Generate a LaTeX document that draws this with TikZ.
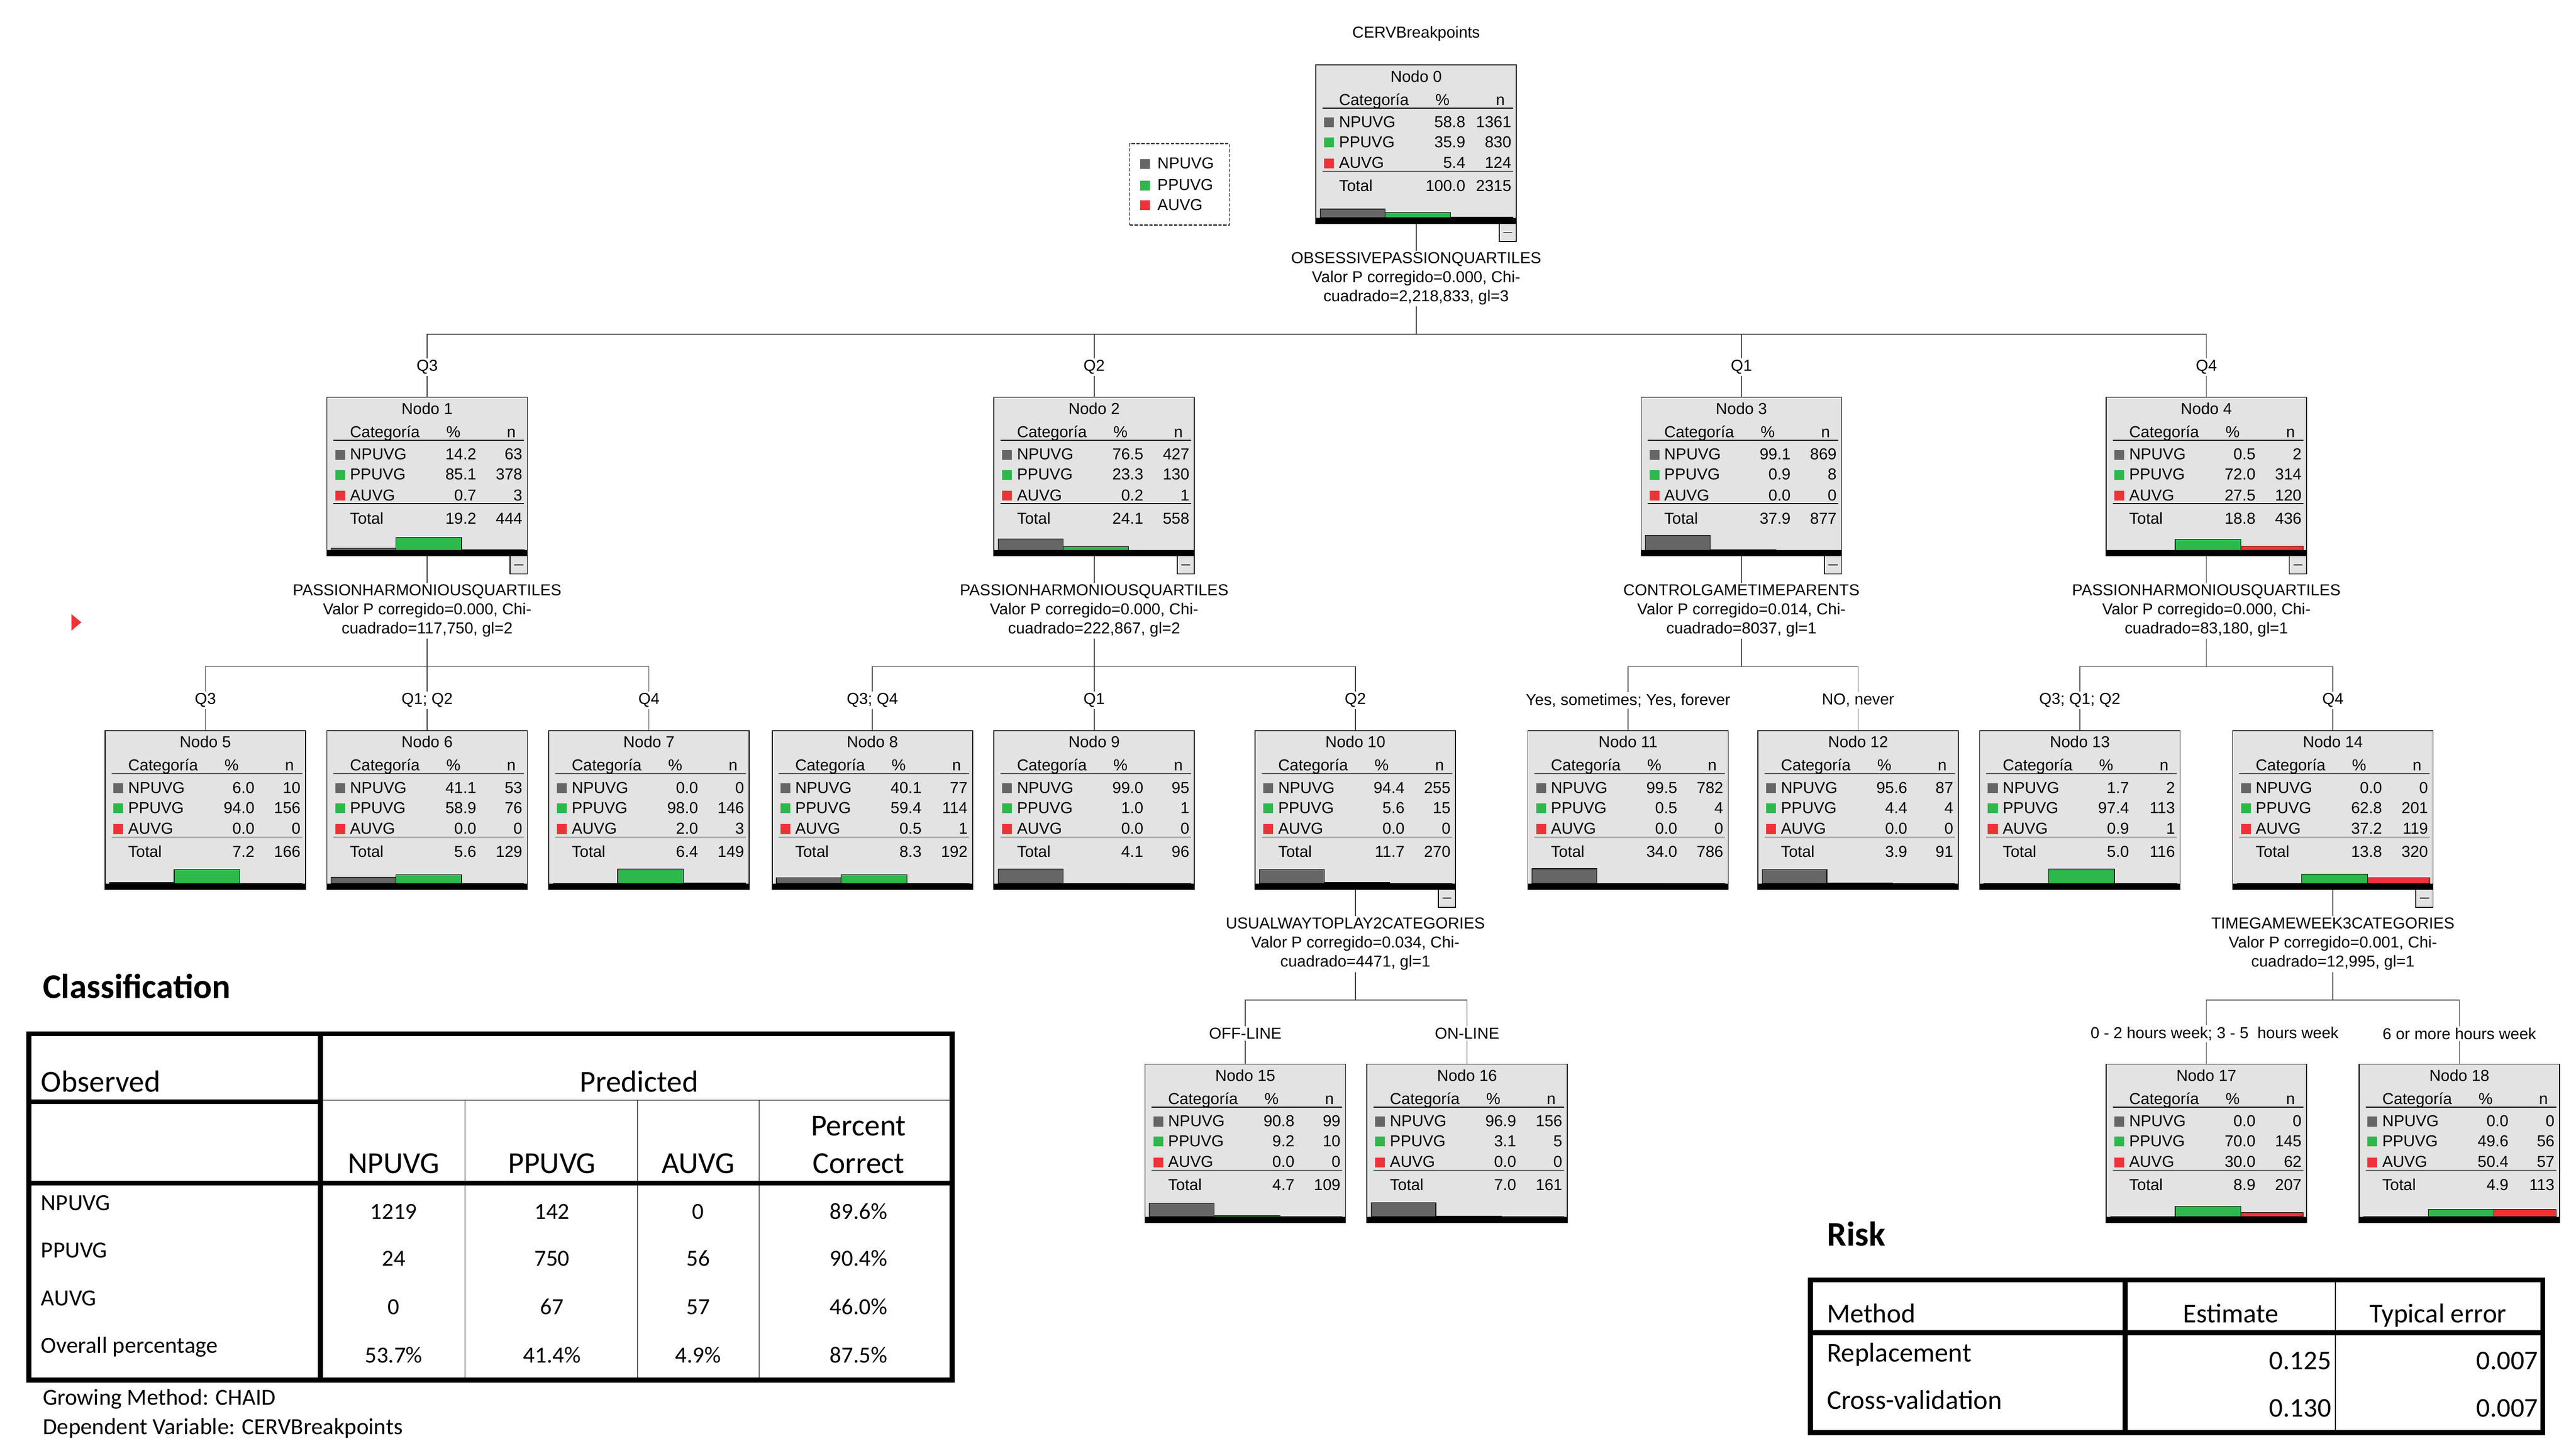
\documentclass[tikz,border=0pt]{standalone}
\usepackage{fontspec}
\setmainfont{Liberation Sans}
\newfontfamily\calib{Carlito}
\usetikzlibrary{calc}
\definecolor{boxgray}{HTML}{E3E3E3}
\definecolor{npgray}{HTML}{666666}
\definecolor{ppgreen}{HTML}{2DB84B}
\definecolor{aured}{HTML}{EE3338}
\definecolor{conncol}{HTML}{404040}
\tikzset{
 tf/.style={font=\fontsize{27.5}{33}\selectfont, inner sep=0pt},
 treebox/.style={draw, fill=boxgray, line width=0.5mm, minimum width=122mm, minimum height=96.5mm, inner sep=0pt, outer sep=0pt, anchor=north west},
 conn/.style={draw=conncol, line width=0.5mm},
 split/.style={tf, fill=white, align=center, inner sep=1mm, anchor=north},
 lab/.style={tf, fill=white, inner sep=1mm},
 bar/.style={draw=black, line width=0.35mm},
 thickrule/.style={line width=3mm},
 thinrule/.style={line width=0.4mm},
 ch/.style={font=\calib\fontsize{53}{60}\selectfont, inner sep=0pt, anchor=base},
 cb/.style={font=\calib\fontsize{40}{46}\selectfont, inner sep=0pt, anchor=base},
 rb/.style={font=\calib\fontsize{47}{52}\selectfont, inner sep=0pt, anchor=base},
 ttl/.style={font=\calib\bfseries\fontsize{60}{66}\selectfont, inner sep=0pt, anchor=base west},
}
\newcommand\tnode[8]{%
\node[treebox] (#1) at (#2,#3) {};
\begin{scope}[shift={(#2,#3)}]
\node[tf,anchor=base] at (61,10.3) {Nodo #4};
\node[tf,anchor=base west] at (14,24.4) {Categoría};
\node[tf,anchor=base] at (77,24.4) {\%};
\node[tf,anchor=base east] at (115,24.4) {n};
\draw[line width=0.5mm] (4,26.2) -- (120,26.2);
\fill (0,93) rectangle (122,96.5);
\foreach \pa/\na/\pb/\nb/\pc/\nc in {#5}{
 \fill[npgray] (5,32) rectangle (11,38);
 \fill[ppgreen] (5,44.2) rectangle (11,50.2);
 \fill[aured] (5,56.9) rectangle (11,62.9);
 \node[tf,anchor=base west] at (14,38) {NPUVG};
 \node[tf,anchor=base west] at (14,50.2) {PPUVG};
 \node[tf,anchor=base west] at (14,62.9) {AUVG};
 \node[tf,anchor=base east] at (91,38) {\pa};
 \node[tf,anchor=base east] at (119,38) {\na};
 \node[tf,anchor=base east] at (91,50.2) {\pb};
 \node[tf,anchor=base east] at (119,50.2) {\nb};
 \node[tf,anchor=base east] at (91,62.9) {\pc};
 \node[tf,anchor=base east] at (119,62.9) {\nc};
 \draw[bar,fill=npgray] (2.6,93) rectangle (42,{93-0.09*\pa});
 \draw[bar,fill=ppgreen] (42,93) rectangle (82,{93-0.09*\pb});
 \draw[bar,fill=aured] (82,93) rectangle (120,{93-0.09*\pc});
}
\draw[line width=0.5mm] (4,64.7) -- (120,64.7);
\node[tf,anchor=base west] at (14,77) {Total};
\node[tf,anchor=base east] at (91,77) {#6};
\node[tf,anchor=base east] at (119,77) {#7};
\ifnum#8=1
 \draw[line width=0.5mm,fill=boxgray] (111.5,96.5) rectangle (122,107.5);
 \draw[line width=0.6mm] (114,102) -- (119.5,102);
\fi
\end{scope}}
\begin{document}
\begin{tikzpicture}[x=1mm,y=-1mm]
\fill[white] (0,0) rectangle (1568,880.5);
\useasboundingbox (0,0) rectangle (1568,880.5);

\node[tf,anchor=base] (title) at (862,23) {CERVBreakpoints};

% legend
\node[draw, dashed, dash pattern=on 2mm off 1mm, line width=0.5mm, minimum width=60.8mm, minimum height=49.5mm, inner sep=0pt] (legend) at (718,112.2) {};
\fill[npgray] (694,96.8) rectangle (700,102.8);
\fill[ppgreen] (694,110) rectangle (700,116);
\fill[aured] (694,122) rectangle (700,128);
\node[tf,anchor=base west] at (704.5,102.8) {NPUVG};
\node[tf,anchor=base west] at (704.5,116) {PPUVG};
\node[tf,anchor=base west] at (704.5,128) {AUVG};

% red marker
\fill[aured] (43.5,374) -- (49.5,379) -- (43.5,384) -- cycle;

% nodes
\tnode{n0}{801}{39.6}{0}{58.8/1361/35.9/830/5.4/124}{100.0}{2315}{1}
\tnode{n1}{199}{242}{1}{14.2/63/85.1/378/0.7/3}{19.2}{444}{1}
\tnode{n2}{605}{242}{2}{76.5/427/23.3/130/0.2/1}{24.1}{558}{1}
\tnode{n3}{999}{242}{3}{99.1/869/0.9/8/0.0/0}{37.9}{877}{1}
\tnode{n4}{1282}{242}{4}{0.5/2/72.0/314/27.5/120}{18.8}{436}{1}
\tnode{n5}{64}{445}{5}{6.0/10/94.0/156/0.0/0}{7.2}{166}{0}
\tnode{n6}{199}{445}{6}{41.1/53/58.9/76/0.0/0}{5.6}{129}{0}
\tnode{n7}{334}{445}{7}{0.0/0/98.0/146/2.0/3}{6.4}{149}{0}
\tnode{n8}{470}{445}{8}{40.1/77/59.4/114/0.5/1}{8.3}{192}{0}
\tnode{n9}{605}{445}{9}{99.0/95/1.0/1/0.0/0}{4.1}{96}{0}
\tnode{n10}{764}{445}{10}{94.4/255/5.6/15/0.0/0}{11.7}{270}{1}
\tnode{n11}{930}{445}{11}{99.5/782/0.5/4/0.0/0}{34.0}{786}{0}
\tnode{n12}{1070}{445}{12}{95.6/87/4.4/4/0.0/0}{3.9}{91}{0}
\tnode{n13}{1205}{445}{13}{1.7/2/97.4/113/0.9/1}{5.0}{116}{0}
\tnode{n14}{1359}{445}{14}{0.0/0/62.8/201/37.2/119}{13.8}{320}{1}
\tnode{n15}{697}{648}{15}{90.8/99/9.2/10/0.0/0}{4.7}{109}{0}
\tnode{n16}{832}{648}{16}{96.9/156/3.1/5/0.0/0}{7.0}{161}{0}
\tnode{n17}{1282}{648}{17}{0.0/0/70.0/145/30.0/62}{8.9}{207}{0}
\tnode{n18}{1436}{648}{18}{0.0/0/49.6/56/50.4/57}{4.9}{113}{0}

% connectors
\foreach \p/\kids in {n0/{n1,n2,n3,n4}, n1/{n5,n6,n7}, n2/{n8,n9,n10}, n3/{n11,n12}, n4/{n13,n14}, n10/{n15,n16}, n14/{n17,n18}}{
 \coordinate (s\p) at ($(\p.south)+(0,67.5)$);
 \draw[conn] (\p.south) -- (s\p);
 \foreach \c in \kids { \draw[conn] (\c.north) |- (s\p); }
}

% split texts
\path (n0.south) ++(0,16.4) node[split] {OBSESSIVEPASSIONQUARTILES\\Valor P corregido=0.000, Chi-\\cuadrado=2,218,833, gl=3};
\path (n1.south) ++(0,16.4) node[split] {PASSIONHARMONIOUSQUARTILES\\Valor P corregido=0.000, Chi-\\cuadrado=117,750, gl=2};
\path (n2.south) ++(0,16.4) node[split] {PASSIONHARMONIOUSQUARTILES\\Valor P corregido=0.000, Chi-\\cuadrado=222,867, gl=2};
\path (n3.south) ++(0,16.4) node[split] {CONTROLGAMETIMEPARENTS\\Valor P corregido=0.014, Chi-\\cuadrado=8037, gl=1};
\path (n4.south) ++(0,16.4) node[split] {PASSIONHARMONIOUSQUARTILES\\Valor P corregido=0.000, Chi-\\cuadrado=83,180, gl=1};
\path (n10.south) ++(0,16.4) node[split] {USUALWAYTOPLAY2CATEGORIES\\Valor P corregido=0.034, Chi-\\cuadrado=4471, gl=1};
\path (n14.south) ++(0,16.4) node[split] {TIMEGAMEWEEK3CATEGORIES\\Valor P corregido=0.001, Chi-\\cuadrado=12,995, gl=1};

% branch labels
\foreach \c/\t in {n1/Q3, n2/Q2, n3/Q1, n4/Q4, n5/Q3, n6/{Q1; Q2}, n7/Q4, n8/{Q3; Q4}, n9/Q1, n10/Q2, n11/{Yes, sometimes; Yes, forever}, n12/{NO, never}, n13/{Q3; Q1; Q2}, n14/Q4, n15/OFF-LINE, n16/ON-LINE, n18/6 or more hours week}{
 \path (\c.north) ++(0,-18.5) node[lab] {\t};
}
\path (n17.north) ++(5,-18.5) node[lab] {0 - 2 hours week; 3 - 5\ \ hours week};

% Classification table
\node[ttl] (ctitle) at (26,608) {Classification};
\draw[thickrule] (17.5,629.5) rectangle (579.5,840.5);
\draw[thickrule] (195,629.5) -- (195,840.5);
\draw[thickrule] (17.5,671) -- (195,671);
\draw[thinrule] (195,670) -- (579.5,670);
\draw[thickrule] (17.5,720.5) -- (579.5,720.5);
\foreach \x in {283,388,462} \draw[thinrule] (\x,670) -- (\x,840.5);
\node[ch,anchor=base west] at (25,665) {Observed};
\node[ch] at (389,665) {Predicted};
\node[ch] at (239.6,714.5) {NPUVG};
\node[ch] at (336,714.5) {PPUVG};
\node[ch] at (425,714.5) {AUVG};
\node[ch] at (522.6,691.6) {Percent};
\node[ch] at (522.6,714.5) {Correct};
\node[cb,anchor=base west] at (25,737) {NPUVG};
\node[cb,anchor=base west] at (25,766) {PPUVG};
\node[cb,anchor=base west] at (25,795) {AUVG};
\node[cb,anchor=base west] at (25,824) {Overall percentage};
\foreach \y/\a/\b/\c/\d in {742.5/1219/142/0/89.6\%, 771/24/750/56/90.4\%, 800.6/0/67/57/46.0\%, 830/53.7\%/41.4\%/4.9\%/87.5\%}{
 \node[cb] at (239.6,\y) {\a};
 \node[cb] at (336,\y) {\b};
 \node[cb] at (425,\y) {\c};
 \node[cb] at (522.6,\y) {\d};
}
\node[cb,anchor=base west] at (26,855.5) {Growing Method: CHAID};
\node[cb,anchor=base west] at (26,873.6) {Dependent Variable: CERVBreakpoints};

% Risk table
\node[ttl] (rtitle) at (1112,758.6) {Risk};
\draw[thickrule] (1102,779.4) rectangle (1547.7,872.4);
\draw[thickrule] (1293.5,779.4) -- (1293.5,872.4);
\draw[thinrule] (1421.5,779.4) -- (1421.5,872.4);
\draw[thickrule] (1102,811.5) -- (1547.7,811.5);
\node[rb,anchor=base west] at (1112,805.4) {Method};
\node[rb] at (1358,805.4) {Estimate};
\node[rb] at (1484,805.4) {Typical error};
\node[rb,anchor=base west] at (1112,829.3) {Replacement};
\node[rb,anchor=base west] at (1112,858) {Cross-validation};
\node[rb,anchor=base east] at (1419,834) {0.125};
\node[rb,anchor=base east] at (1545,834) {0.007};
\node[rb,anchor=base east] at (1419,863) {0.130};
\node[rb,anchor=base east] at (1545,863) {0.007};
\end{tikzpicture}
\end{document}
